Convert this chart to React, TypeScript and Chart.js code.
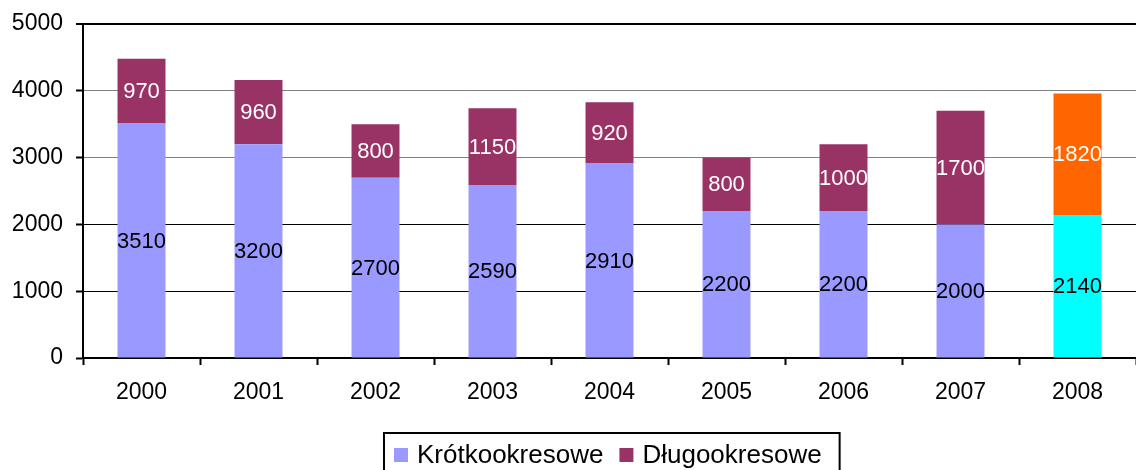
import React, { useEffect, useRef } from 'react';
import { Chart, registerables } from 'chart.js';

Chart.register(...registerables);

const years = ['2000', '2001', '2002', '2003', '2004', '2005', '2006', '2007', '2008'];
const shortTerm = [3510, 3200, 2700, 2590, 2910, 2200, 2200, 2000, 2140];
const longTerm = [970, 960, 800, 1150, 920, 800, 1000, 1700, 1820];
const seriesNames = ['Krótkookresowe', 'Długookresowe'];
const shortColors = ['#9999FF', '#9999FF', '#9999FF', '#9999FF', '#9999FF', '#9999FF', '#9999FF', '#9999FF', '#00FFFF'];
const longColors = ['#993366', '#993366', '#993366', '#993366', '#993366', '#993366', '#993366', '#993366', '#FF6600'];
const yMin = 0;
const yMax = 5000;
const yStep = 1000;

const FONT = '"Liberation Sans", Arial, Helvetica, sans-serif';

export default function App() {
  const ref = useRef<HTMLCanvasElement>(null);

  useEffect(() => {
    if (!ref.current) return;

    const segLabels = {
      id: 'segLabels',
      afterDatasetsDraw(chart: any) {
        const ctx = chart.ctx;
        ctx.save();
        ctx.font = `22px ${FONT}`;
        ctx.textAlign = 'center';
        ctx.textBaseline = 'middle';
        chart.data.datasets.forEach((ds: any, di: number) => {
          const meta = chart.getDatasetMeta(di);
          ctx.fillStyle = di === 0 ? '#000000' : '#FFFFFF';
          meta.data.forEach((bar: any, i: number) => {
            const p = bar.getProps(['x', 'y', 'base'], true);
            ctx.fillText(String(ds.data[i]), p.x, (p.y + p.base) / 2 + 1);
          });
        });
        ctx.restore();
      },
    };

    const boxLegend = {
      id: 'boxLegend',
      afterDraw(chart: any) {
        const ctx = chart.ctx;
        ctx.save();
        ctx.font = `26px ${FONT}`;
        const items = chart.data.datasets.map((ds: any) => ({
          text: ds.label as string,
          color: Array.isArray(ds.backgroundColor) ? ds.backgroundColor[0] : ds.backgroundColor,
        }));
        const box = 14;
        const gap = 9;
        const between = 16;
        const padL = 10;
        const padR = 18;
        const widths = items.map((it: any) => ctx.measureText(it.text).width);
        let total = padL + padR + between * (items.length - 1);
        items.forEach((_: any, i: number) => {
          total += box + gap + widths[i];
        });
        const ca = chart.chartArea;
        const cx = (ca.left + ca.right) / 2;
        const left = Math.round(cx - total / 2) + 2;
        const top = chart.height - 37;
        ctx.strokeStyle = '#000000';
        ctx.lineWidth = 2;
        ctx.strokeRect(left, top, total, 40);
        let x = left + padL;
        const baseline = top + 30;
        ctx.textAlign = 'left';
        ctx.textBaseline = 'alphabetic';
        items.forEach((it: any, i: number) => {
          ctx.fillStyle = it.color;
          ctx.fillRect(x, baseline - 15, box, box);
          x += box + gap;
          ctx.fillStyle = '#000000';
          ctx.fillText(it.text, x, baseline);
          x += widths[i] + between;
        });
        ctx.restore();
      },
    };

    const chart = new Chart(ref.current, {
      type: 'bar',
      data: {
        labels: years,
        datasets: [
          {
            label: seriesNames[0],
            data: shortTerm,
            backgroundColor: shortColors,
            borderWidth: 0,
            barPercentage: 0.41,
            categoryPercentage: 1,
          },
          {
            label: seriesNames[1],
            data: longTerm,
            backgroundColor: longColors,
            borderWidth: 0,
            barPercentage: 0.41,
            categoryPercentage: 1,
          },
        ],
      },
      options: {
        responsive: false,
        animation: false,
        layout: { padding: { top: 24, left: 0, right: 0, bottom: 0 } },
        plugins: {
          legend: { display: false },
          tooltip: { enabled: false },
          title: { display: false },
        },
        scales: {
          x: {
            stacked: true,
            offset: true,
            grid: {
              offset: true,
              drawOnChartArea: false,
              drawTicks: true,
              tickLength: 7,
              tickColor: '#000000',
              tickWidth: 2,
            },
            border: { display: true, color: '#000000', width: 2 },
            ticks: {
              color: '#000000',
              font: { family: FONT, size: 23 },
              padding: 14,
              maxRotation: 0,
              autoSkip: false,
            },
            afterFit(scale: any) {
              scale.height = 112;
              scale.paddingLeft = 0;
              scale.paddingRight = 0;
            },
          },
          y: {
            stacked: true,
            min: yMin,
            max: yMax,
            ticks: {
              stepSize: yStep,
              color: '#000000',
              font: { family: FONT, size: 23 },
              padding: 13,
              callback: (v: any) => String(v),
            },
            grid: {
              drawTicks: true,
              tickLength: 7,
              tickColor: '#000000',
              tickWidth: 2,
              color: (c: any) => {
                const v = c.tick ? c.tick.value : 0;
                return v === 3000 || v === 4000 ? '#808080' : '#000000';
              },
              lineWidth: (c: any) => {
                const v = c.tick ? c.tick.value : 0;
                return v === yMax ? 2 : 1;
              },
            },
            border: { display: true, color: '#000000', width: 2 },
            afterFit(scale: any) {
              scale.width = 83;
              scale.paddingTop = 0;
              scale.paddingBottom = 0;
            },
          },
        },
      },
      plugins: [segLabels, boxLegend],
    });

    return () => chart.destroy();
  }, []);

  return (
    <div style={{ position: 'absolute', left: 0, top: 0, width: 1136, height: 470, background: '#FFFFFF' }}>
      <canvas ref={ref} width={1136} height={470} style={{ display: 'block' }} />
    </div>
  );
}
